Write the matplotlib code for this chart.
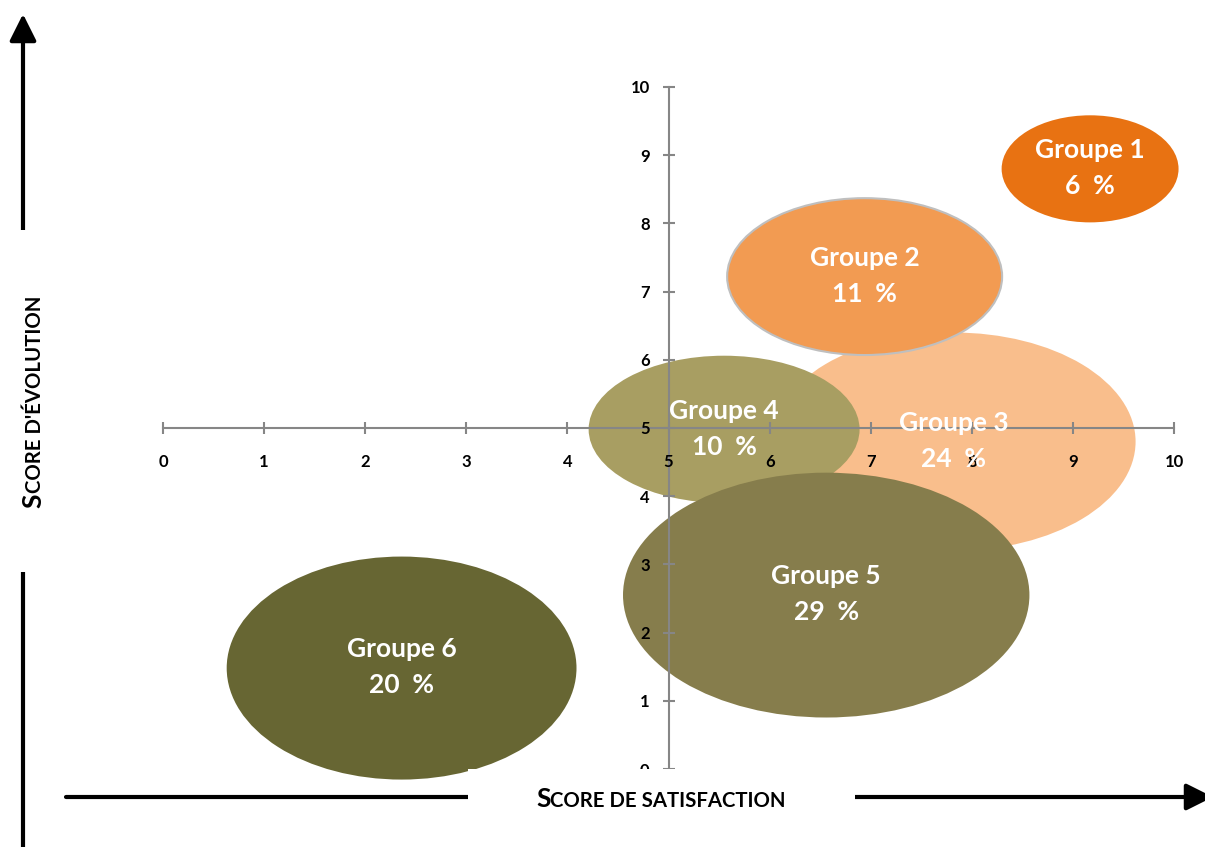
import matplotlib
matplotlib.use('Agg')
import matplotlib.pyplot as plt
from matplotlib.patches import Ellipse, Rectangle

# ---------------- data ----------------
groups = ['Groupe 1', 'Groupe 2', 'Groupe 3', 'Groupe 4', 'Groupe 5', 'Groupe 6']
satisfaction = [9.17, 6.94, 7.82, 5.55, 6.56, 2.36]
evolution = [8.80, 7.22, 4.80, 4.98, 2.55, 1.48]
shares = [6, 11, 24, 10, 29, 20]
bubble_w = [1.75, 2.72, 3.60, 2.68, 4.02, 3.46]
bubble_h = [1.57, 2.30, 3.20, 2.16, 3.59, 3.27]
ticks = list(range(0, 11))
x_title = [('S', 19), ('CORE DE SATISFACTION', 14.7)]
y_title = [('S', 19), ("CORE D'ÉVOLUTION", 14.7)]

colors = ['#E87212', '#F29B52', '#F9BE8C', '#A89E62', '#867D4C', '#676633']
draw_order = [2, 1, 3, 4, 0, 5]

plt.rcParams['font.family'] = ['Lato', 'DejaVu Sans']

W, H = 1205, 847
fig = plt.figure(figsize=(W / 100, H / 100), dpi=100)
ax = fig.add_axes([163 / W, 78 / H, 1011 / W, 682 / H])
ax.set_xlim(0, 10)
ax.set_ylim(0, 10)
ax.patch.set_visible(False)
for s in ['top', 'right']:
    ax.spines[s].set_visible(False)
ax.spines['left'].set_position(('data', 5))
ax.spines['bottom'].set_position(('data', 5))
for s in ['left', 'bottom']:
    ax.spines[s].set_color('#868686')
    ax.spines[s].set_linewidth(1.5)
    ax.spines[s].set_zorder(2.5)
ax.set_xticks(ticks)
ax.set_yticks(ticks)
ax.set_axisbelow(False)
ax.tick_params(direction='inout', length=8, width=1.5, color='#868686',
               labelsize=12, labelcolor='black')
ax.tick_params(axis='x', pad=14.5)
ax.tick_params(axis='y', pad=9.5)
for lab in ax.get_xticklabels() + ax.get_yticklabels():
    lab.set_fontweight('bold')

for i in draw_order:
    e = Ellipse((satisfaction[i], evolution[i]), bubble_w[i], bubble_h[i],
                facecolor=colors[i],
                edgecolor='#BFBFBF' if i == 1 else 'none',
                lw=1.5, zorder=1, clip_on=False)
    ax.add_patch(e)
    ax.text(satisfaction[i], evolution[i] + 0.01, f"{groups[i]}\n{shares[i]}  %",
            ha='center', va='center', color='white', fontsize=19,
            fontweight='bold', zorder=5, linespacing=1.6)

# ---------------- overlay: arrows & titles ----------------
ov = fig.add_axes([0, 0, 1, 1], zorder=10)
ov.set_xlim(0, W)
ov.set_ylim(H, 0)
ov.axis('off')
ov.patch.set_visible(False)

arrow_style = '-|>,head_length=0.9,head_width=0.45'
ov.annotate('', xy=(1213, 797), xytext=(66, 797), annotation_clip=False,
            arrowprops=dict(arrowstyle=arrow_style, lw=3, color='black',
                            shrinkA=0, shrinkB=0, mutation_scale=18),
            zorder=2)
ov.annotate('', xy=(23, 14), xytext=(23, 850), annotation_clip=False,
            arrowprops=dict(arrowstyle=arrow_style, lw=3, color='black',
                            shrinkA=0, shrinkB=0, mutation_scale=18),
            zorder=2)
ov.add_patch(Rectangle((468, 769), 387, 72, facecolor='white', edgecolor='none', zorder=4))
ov.add_patch(Rectangle((0, 230), 62, 342, facecolor='white', edgecolor='none', zorder=4))

renderer = fig.canvas.get_renderer()


def small_caps(parts, cx, cy, rotation=0):
    texts = []
    for s, size in parts:
        t = ov.text(0, 0, s, fontsize=size, fontweight='bold', rotation=rotation,
                    rotation_mode='anchor', ha='left', va='baseline',
                    color='black', zorder=5)
        texts.append(t)
    lens = []
    for t in texts:
        bb = t.get_window_extent(renderer)
        lens.append(bb.width if rotation == 0 else bb.height)
    total = sum(lens)
    pos = 0.0
    for t, l in zip(texts, lens):
        if rotation == 0:
            t.set_position((cx - total / 2 + pos, cy))
        else:
            t.set_position((cx, cy + total / 2 - pos))
        pos += l


small_caps(x_title, 661, 807)
small_caps(y_title, 41, 402, rotation=90)

fig.savefig('out.png', dpi=100)
